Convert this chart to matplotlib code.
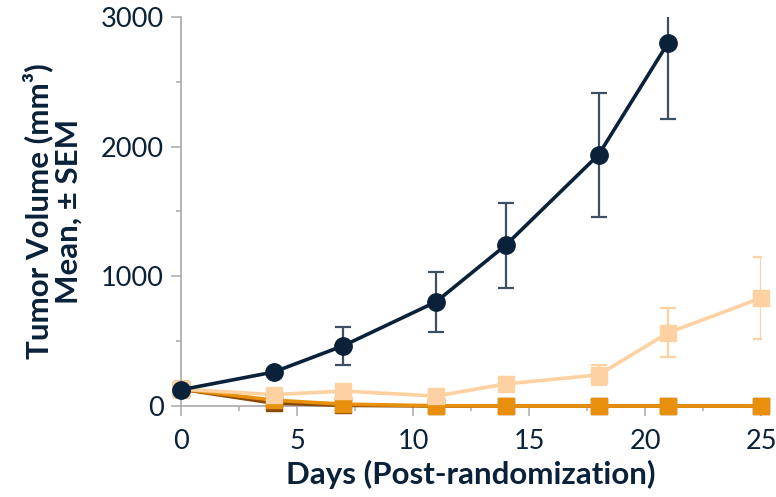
import numpy as np
import matplotlib.pyplot as plt
from matplotlib.ticker import MultipleLocator

plt.rcParams['font.family'] = ['Lato', 'DejaVu Sans']

# datos
days_vehicle = [0, 4, 7, 11, 14, 18, 21]
vehicle = [125, 262, 465, 804, 1241, 1938, 2802]
vehicle_sem = [0, 15, 145, 232, 328, 478, 588]

days = [0, 4, 7, 11, 14, 18, 21, 25]
low_dose = [130, 88, 115, 77, 170, 240, 565, 833]
low_dose_sem = [0, 10, 15, 10, 20, 75, 190, 316]
mid_dose = [130, 45, 14, 2, 0, 0, 0, 0]
high_dose = [130, 22, 5, 0, 0, 0, 0, 0]

navy = '#0a2239'
navy_err = '#3b5063'
peach = '#fdd1a1'
orange = '#e8900b'
brown = '#8a4a05'
grey = '#a9a9a9'

fig = plt.figure(figsize=(7.76, 4.97), dpi=100)
ax = fig.add_axes([0.2332, 0.1831, 0.7475, 0.7827])

# series (de abajo hacia arriba)
ax.plot(days, high_dose, color=brown, lw=2.6, marker='s', ms=12, zorder=3, clip_on=False)
ax.plot(days, mid_dose, color=orange, lw=2.6, marker='s', ms=12, zorder=4, clip_on=False)

ax.errorbar(days, low_dose, yerr=low_dose_sem, fmt='none', ecolor=peach,
            elinewidth=1.6, capsize=6, capthick=1.6, zorder=5)
ax.plot(days, low_dose, color=peach, lw=2.6, marker='s', ms=12, zorder=6, clip_on=False)

ax.errorbar(days_vehicle, vehicle, yerr=vehicle_sem, fmt='none', ecolor=navy_err,
            elinewidth=1.6, capsize=6, capthick=1.6, zorder=7)
ax.plot(days_vehicle, vehicle, color=navy, lw=2.6, marker='o', ms=12.5, zorder=8, clip_on=False)

ax.set_xlim(0, 25)
ax.set_ylim(0, 3000)
ax.xaxis.set_major_locator(MultipleLocator(5))
ax.xaxis.set_minor_locator(MultipleLocator(2.5))
ax.yaxis.set_major_locator(MultipleLocator(1000))
ax.yaxis.set_minor_locator(MultipleLocator(500))

for s in ['top', 'right']:
    ax.spines[s].set_visible(False)
for s in ['left', 'bottom']:
    ax.spines[s].set_color(grey)
    ax.spines[s].set_linewidth(1.2)

ax.tick_params(which='major', length=7.5, width=1.1, color=grey, labelsize=19.5,
               labelcolor=navy)
ax.tick_params(which='minor', length=3.5, width=1.1, color=grey)
ax.tick_params(axis='x', which='major', pad=9)
ax.tick_params(axis='y', which='major', pad=5)

ax.set_xlabel('Days (Post-randomization)', fontsize=22.5, fontweight='bold',
              color=navy, labelpad=4)
ax.set_ylabel('Tumor Volume (mm³)\nMean, ± SEM', fontsize=22.5, fontweight='bold',
              color=navy, labelpad=13, linespacing=1.05)

fig.savefig('out.png', dpi=100)
